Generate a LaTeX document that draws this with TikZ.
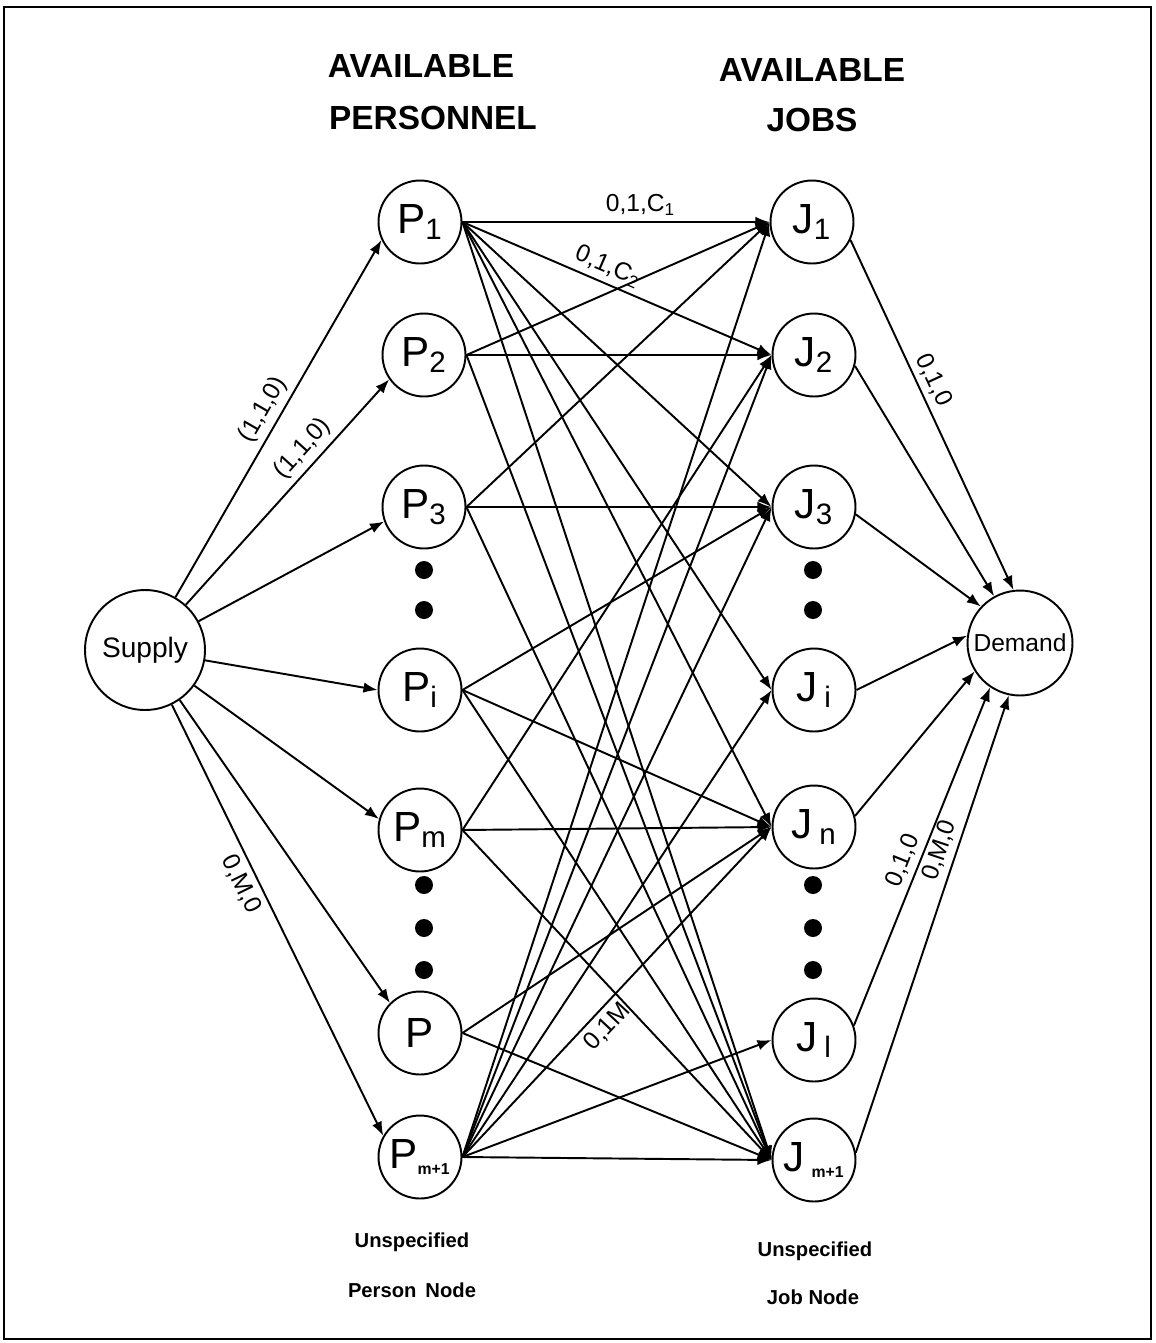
\documentclass[tikz,border=0pt]{standalone}
\usepackage{fontspec}
\setmainfont{Liberation Sans}
\usetikzlibrary{arrows.meta}

\begin{document}
\begin{tikzpicture}[x=0.02cm, y=-0.02cm,
    vertex/.style={draw, circle, line width=1.1pt, minimum size=1.66cm, inner sep=0pt,
      font=\fontsize{24}{24}\selectfont},
    endvertex/.style={draw, circle, line width=1.1pt, inner sep=0pt},
    flow/.style={line width=1.1pt, -{Latex[length=8pt,width=6pt]}},
    lbl/.style={font=\fontsize{14}{14}\selectfont, sloped, inner sep=3pt},
    bigdot/.style={circle, fill, inner sep=0pt, minimum size=0.36cm},
    head/.style={font=\fontsize{19}{19}\selectfont\bfseries},
    foot/.style={font=\fontsize{11.5}{11.5}\selectfont\bfseries}]
      % \draw[help lines, gray!50, very thin] (0,0) grid[step=100] (1156,1343);
      \useasboundingbox (0,0) rectangle (1156,1343);
      \draw[line width=1.6pt] (4,7) rectangle (1151,1339);

      % column titles
      \node[head] (t1) at (421,66) {AVAILABLE};
      \node[head] (t2) at (433,118) {PERSONNEL};
      \node[head] (t3) at (812,70) {AVAILABLE};
      \node[head] (t4) at (812,120) {JOBS};

      % source and sink
      \node[endvertex, minimum size=2.4cm, font=\fontsize{16}{16}\selectfont] (sup) at (145,650) {Supply};
      \node[endvertex, minimum size=2.1cm, font=\fontsize{14}{14}\selectfont] (dem) at (1020,643) {Demand};

      % personnel
      \node[vertex] (P1) at (420,222) {P\textsubscript{1}};
      \node[vertex] (P2) at (424,355) {P\textsubscript{2}};
      \node[vertex] (P3) at (424,507) {P\textsubscript{3}};
      \node[vertex] (Pi) at (420,690) {P\textsubscript{i}};
      \node[vertex] (Pm) at (420,830) {P\textsubscript{m}};
      \node[vertex] (Pp) at (420,1033) {P};
      \node[vertex] (Pm1) at (420,1157) {P\textsubscript{\fontsize{9}{9}\selectfont\bfseries m+1}};

      % jobs
      \node[vertex] (J1) at (812,222) {J\textsubscript{1}};
      \node[vertex] (J2) at (814,355) {J\textsubscript{2}};
      \node[vertex] (J3) at (814,507) {J\textsubscript{3}};
      \node[vertex] (Ji) at (814,690) {J\,\textsubscript{i}};
      \node[vertex] (Jn) at (814,827) {J\,\textsubscript{n}};
      \node[vertex] (Jl) at (814,1040) {J\,\textsubscript{l}};
      \node[vertex] (Jm1) at (814,1160) {J\,\textsubscript{\fontsize{9}{9}\selectfont\bfseries m+1}};

      % dots
      \foreach \y [count=\k] in {570,610,885,928,970} {
        \node[bigdot] (ld\k) at (424,\y) {};
        \node[bigdot] (rd\k) at (813,\y) {};
      }

      % supply arcs
      \draw[flow] (sup) -- node[lbl, above, pos=0.5] {(1,1,0)} (P1.205);
      \draw[flow] (sup) -- node[lbl, above, pos=0.64] {(1,1,0)} (P2.215);
      \draw[flow] (sup) -- (P3.200);
      \draw[flow] (sup) -- (Pi.180);
      \draw[flow] (sup) -- (Pm.165);
      \draw[flow] (sup) -- (Pp.135);
      \draw[flow] (sup) -- node[lbl, below, pos=0.4] {0,M,0} (Pm1.150);

      % assignment arcs
      \draw[flow] (P1.east) -- node[lbl, above, pos=0.58] {0,1,C\textsubscript{1}} (J1.west);
      \draw[flow] (P1.east) -- node[lbl, above, pos=0.45] {0,1,C\textsubscript{2}} (J2.west);
      \draw[flow] (Pm1.east) -- node[lbl, below, pos=0.43] {0,1M} (Jn.west);
      \foreach \a/\b in {P1/J3, P1/Ji, P1/Jn, P1/Jm1,
                         P2/J1, P2/J2, P2/Jm1,
                         P3/J1, P3/J3, P3/Jm1,
                         Pi/J3, Pi/Jn, Pi/Jm1,
                         Pm/J2, Pm/Jn, Pm/Jm1,
                         Pp/Jn, Pp/Jm1,
                         Pm1/J1, Pm1/J2, Pm1/J3, Pm1/Ji, Pm1/Jl, Pm1/Jm1}
        \draw[flow] (\a.east) -- (\b.west);

      % demand arcs
      \draw[flow] (J1.-25) -- node[lbl, above, pos=0.42] {0,1,0} (dem.97);
      \draw[flow] (J2.-15) -- (dem.119);
      \draw[flow] (J3.-10) -- (dem.137);
      \draw[flow] (Ji.east) -- (dem.172);
      \draw[flow] (Jn.15) -- (dem.212);
      \draw[flow] (Jl.20) -- node[lbl, above, pos=0.47] {0,1,0} (dem.236);
      \draw[flow] (Jm1.10) -- node[lbl, above, pos=0.65] {0,M,0} (dem.258);

      % bottom notes
      \node[foot] (n1) at (412,1242) {Unspecified};
      \node[foot] (n2) at (412,1290) {Person\, Node};
      \node[foot] (n3) at (815,1251) {Unspecified};
      \node[foot] (n4) at (813,1297) {Job Node};
    \end{tikzpicture}
\end{document}
